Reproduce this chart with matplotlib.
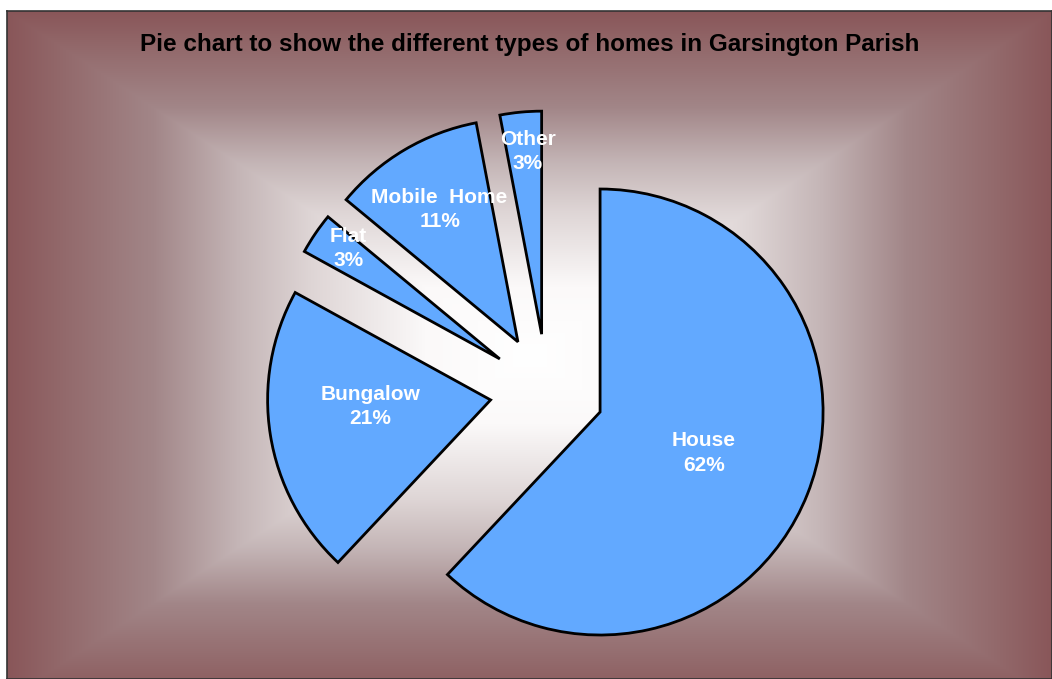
import numpy as np
import matplotlib
matplotlib.use("Agg")
import matplotlib.pyplot as plt

# ---- data ----
categories = ["House", "Bungalow", "Flat", "Mobile  Home", "Other"]
percent = [62, 21, 3, 11, 3]
title = "Pie chart to show the different types of homes in Garsington Parish"

# ---- style ----
W, H = 1052, 679
FRAME_L, FRAME_T = 7, 11
CX, CY, R = 547, 391, 223          # pixel centre / radius of pie
EXPLODE = 0.256
label_dist = [0.50, 0.54, 0.84, 0.69, 0.82]
label_dang = [0, -6, -2, 0, -1]
pie_color = "#62A9FF"
font = ["Liberation Sans", "DejaVu Sans"]

fig = plt.figure(figsize=(W / 100, H / 100), dpi=100)
fig.patch.set_facecolor("white")

# ---- background (rectangular gradient) ----
fw, fh = W - FRAME_L, H - FRAME_T
bg = fig.add_axes([FRAME_L / W, 0, fw / W, fh / H])
yy, xx = np.mgrid[0:fh, 0:fw]
cxf, cyf = fw / 2.0, fh / 2.0 + 10
t = np.maximum(np.abs(xx - cxf) / (fw / 2.0), np.abs(yy - cyf) / (fh / 2.0 + 10))
t = np.clip(t, 0, 1)
stops_t = [0.0, 0.20, 0.42, 0.56, 0.72, 0.90, 1.0]
stops_c = np.array([
    [255, 255, 255],
    [251, 249, 249],
    [222, 213, 213],
    [196, 181, 182],
    [162, 134, 136],
    [146, 104, 106],
    [137, 86, 89],
]) / 255.0
img = np.zeros((fh, fw, 3))
for k in range(3):
    img[..., k] = np.interp(t, stops_t, stops_c[:, k])
bg.imshow(img, aspect="auto", interpolation="bilinear")
bg.set_xticks([])
bg.set_yticks([])
for s in bg.spines.values():
    s.set_edgecolor("#333333")
    s.set_linewidth(1.2)

# ---- pie ----
ax = fig.add_axes([0, 0, 1, 1])
ax.patch.set_alpha(0)
wedges, _ = ax.pie(
    percent,
    startangle=90,
    counterclock=False,
    radius=1,
    explode=[EXPLODE] * len(percent),
    colors=[pie_color] * len(percent),
    wedgeprops=dict(edgecolor="black", linewidth=2.0, joinstyle="miter"),
)
ax.set_aspect("auto")
ax.set_xlim(-CX / R, (W - CX) / R)
ax.set_ylim(-(H - CY) / R, CY / R)
ax.axis("off")

for w, name, p, d, da in zip(wedges, categories, percent, label_dist, label_dang):
    th = np.deg2rad((w.theta1 + w.theta2) / 2 + da)
    x0, y0 = w.center
    ax.text(x0 + d * w.r * np.cos(th), y0 + d * w.r * np.sin(th),
            f"{name}\n{p}%", ha="center", va="center", color="white",
            fontsize=15, fontweight="bold", family=font, linespacing=1.35)

fig.text((FRAME_L + W) / 2 / W, 1 - 44 / H, title, ha="center", va="center",
         fontsize=17.5, fontweight="bold", family=font, color="black")

fig.savefig("out.png", dpi=100)
